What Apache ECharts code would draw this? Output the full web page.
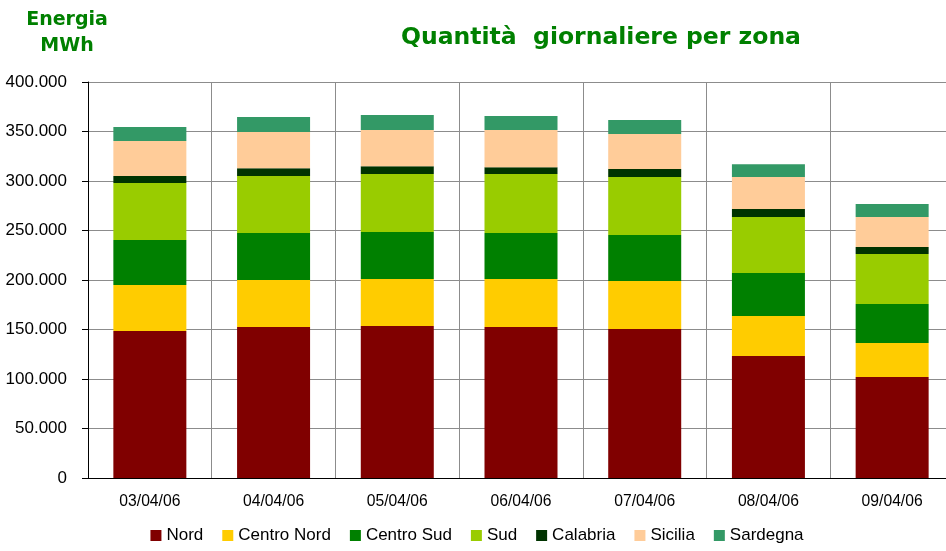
<!DOCTYPE html>
<html><head><meta charset="utf-8">
<script src="https://cdn.jsdelivr.net/npm/echarts@6/dist/echarts.min.js"></script>
<style>html,body{margin:0;padding:0;background:#fff;overflow:hidden}#c{width:954px;height:551px}</style>
</head><body><div id="c"></div>
<script>
const categories = ['03/04/06','04/04/06','05/04/06','06/04/06','07/04/06','08/04/06','09/04/06'];
const nord       = [148500,152500,153500,152500,150500,123200,102000];
const centroNord = [46500,47500,47500,48500,48500,40400,34400];
const centroSud  = [45400,47500,47500,46500,46500,43400,39400];
const sud        = [57600,57500,58500,59500,58500,56600,50500];
const calabria   = [7000,8000,8000,7000,8000,8100,7000];
const sicilia    = [35400,36500,36500,37500,35500,32300,30300];
const sardegna   = [14100,15100,15200,14200,14100,13000,13200];
const seriesNames = ['Nord','Centro Nord','Centro Sud','Sud','Calabria','Sicilia','Sardegna'];
const seriesData = [nord,centroNord,centroSud,sud,calabria,sicilia,sardegna];
const colors = ['#800000','#FFCC00','#008000','#99CC00','#003300','#FFCC99','#339966'];

const chart = echarts.init(document.getElementById('c'));
const fmt = v => v === 0 ? '0' : String(v).replace(/\B(?=(\d{3})+(?!\d))/g, '.');
const F = 'Liberation Sans, Arial, sans-serif';
chart.setOption({
  animation: false,
  textStyle: {fontFamily: F},
  title: [
    {text: 'Quantità  giornaliere per zona', left: 596, top: 21, textAlign: 'center',
     textStyle: {color: '#008000', fontSize: 23.5, fontWeight: 'bold', fontFamily: 'DejaVu Sans'}},
    {text: 'Energia\nMWh', left: 62, top: 2, textAlign: 'center',
     textStyle: {color: '#008000', fontSize: 19, fontWeight: 'bold', lineHeight: 26, fontFamily: 'DejaVu Sans'}}
  ],
  legend: {
    bottom: 2, left: 'center', itemWidth: 11, itemHeight: 11, itemGap: 19,
    icon: 'rect',
    textStyle: {fontSize: 17, color: '#000', fontFamily: F},
    data: seriesNames
  },
  grid: {left: 88, top: 82, width: 866, height: 396},
  xAxis: {
    type: 'category', data: categories,
    axisLine: {lineStyle: {color: '#000', width: 1}},
    axisTick: {length: 5, lineStyle: {color: '#000'}},
    axisLabel: {color: '#000', fontSize: 15.7, margin: 16, fontFamily: F},
    splitLine: {show: true, lineStyle: {color: '#8c8c8c', width: 1}}
  },
  yAxis: {
    type: 'value', min: 0, max: 400000, interval: 50000,
    axisLine: {show: true, lineStyle: {color: '#000'}},
    axisTick: {show: true, length: 6, lineStyle: {color: '#000'}},
    axisLabel: {color: '#000', fontSize: 17, margin: 21, formatter: fmt, fontFamily: F},
    splitLine: {lineStyle: {color: '#8c8c8c', width: 1}}
  },
  series: seriesNames.map((n, i) => ({
    name: n, type: 'bar', stack: 'tot', data: seriesData[i], barWidth: 73,
    itemStyle: {color: colors[i]}
  }))
});
</script></body></html>
